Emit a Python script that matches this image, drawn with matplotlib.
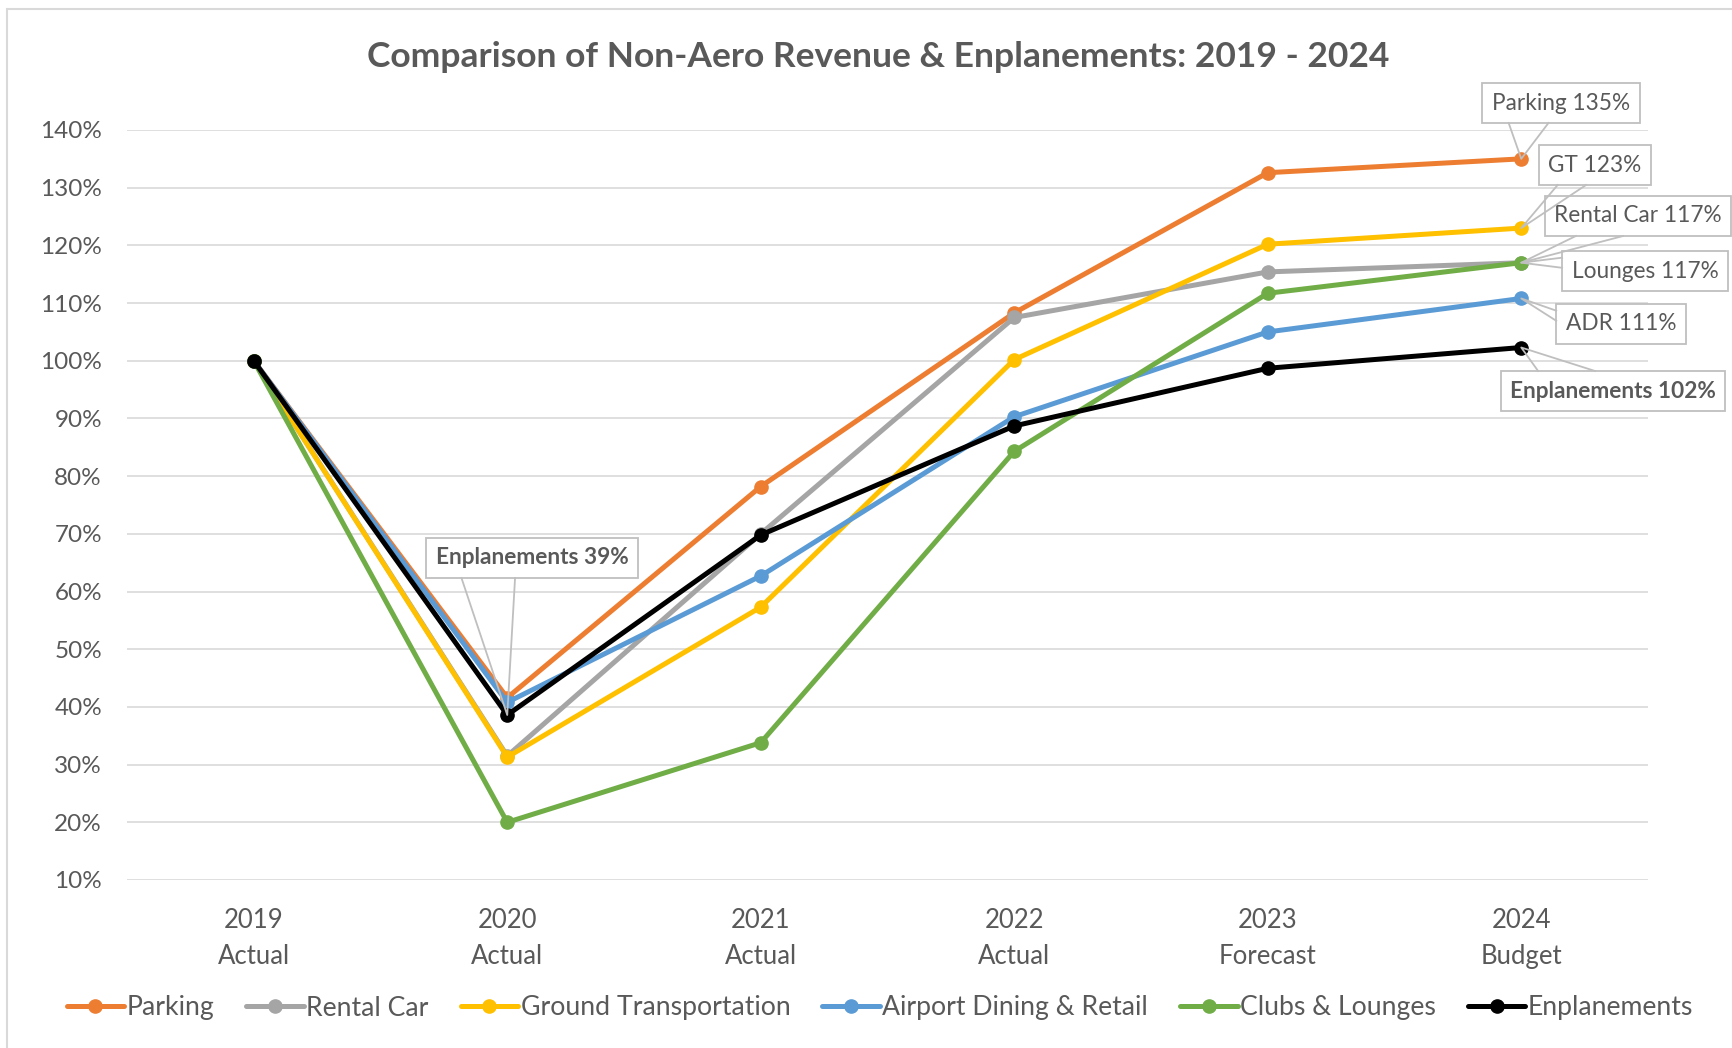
import numpy as np
import matplotlib
matplotlib.use("Agg")
import matplotlib.pyplot as plt
from matplotlib.lines import Line2D
from matplotlib.patches import Rectangle
from matplotlib.transforms import IdentityTransform

plt.rcParams['font.family'] = ['Lato', 'DejaVu Sans']

categories = ["2019\nActual", "2020\nActual", "2021\nActual",
              "2022\nActual", "2023\nForecast", "2024\nBudget"]

parking = [100, 41.6, 78.2, 108.3, 132.6, 135]
rental_car = [100, 31.5, 70.0, 107.5, 115.4, 117]
ground_transport = [100, 31.3, 57.3, 100.2, 120.2, 123]
dining_retail = [100, 40.8, 62.7, 90.3, 105.0, 110.8]
clubs_lounges = [100, 20.0, 33.8, 84.3, 111.7, 117]
enplanements = [100, 38.6, 69.8, 88.7, 98.7, 102.3]

series_names = ["Parking", "Rental Car", "Ground Transportation",
                "Airport Dining & Retail", "Clubs & Lounges", "Enplanements"]
series_values = [parking, rental_car, ground_transport,
                 dining_retail, clubs_lounges, enplanements]
series_colors = ["#ED7D31", "#A5A5A5", "#FFC000", "#5B9BD5", "#70AD47", "#000000"]

# callouts: (series index, category index, label text, bold)
callouts = [
    (0, 5, "Parking 135%", False),
    (2, 5, "GT 123%", False),
    (1, 5, "Rental Car 117%", False),
    (4, 5, "Lounges 117%", False),
    (3, 5, "ADR 111%", False),
    (5, 5, "Enplanements 102%", True),
    (5, 1, "Enplanements 39%", True),
]
# box centres in figure pixels (from top-left) and the side the pointer leaves from
callout_pos = [(1561, 103, "bottom"), (1595, 165, "bottom"), (1638, 216, "bottom"),
               (1645, 271, "left"), (1621, 324, "left"), (1613, 391, "top"),
               (532, 558, "bottom")]

TXT = "#595959"
W, H = 1732, 1048

fig = plt.figure(figsize=(W / 100, H / 100), dpi=100)
ax = fig.add_axes([127 / W, 1 - 880 / H, (1648 - 127) / W, (880 - 130) / H])

x = np.arange(len(categories))
handles = []
for name, vals, col in zip(series_names, series_values, series_colors):
    ln, = ax.plot(x, vals, color=col, lw=3.6, marker="o", markersize=9.5,
                  solid_joinstyle="round", solid_capstyle="round", label=name,
                  clip_on=False)
    handles.append(ln)

ax.set_xlim(-0.5, len(categories) - 0.5)
ax.set_ylim(10, 140)
ax.set_yticks(np.arange(10, 141, 10))
ax.set_yticklabels([f"{v}%" for v in range(10, 141, 10)])
ax.set_xticks(x)
ax.set_xticklabels(categories, linespacing=1.58)
ax.grid(axis="y", color="#D9D9D9", lw=1.2)
ax.set_axisbelow(True)
for s in ax.spines.values():
    s.set_visible(False)
ax.tick_params(axis="both", length=0, labelcolor=TXT)
ax.tick_params(axis="y", pad=18, labelsize=17.5)
ax.tick_params(axis="x", pad=20, labelsize=18.5)

fig.text(878 / W, 1 - 57 / H, "Comparison of Non-Aero Revenue & Enplanements: 2019 - 2024",
         ha="center", va="center", fontsize=25.5, fontweight="bold", color=TXT)

fig.legend(handles=handles, loc="center", bbox_to_anchor=(880 / W, 1 - 1008 / H),
           ncol=6, frameon=False, fontsize=19.2, labelcolor=TXT,
           handlelength=2.15, handletextpad=0.1, columnspacing=1.2)

# outer chart border (only top and left edges are inside the picture)
fig.add_artist(Rectangle((7, -20), W + 40, H - 9 + 20, transform=IdentityTransform(),
                         fill=False, edgecolor="#D9D9D9", lw=1.5))

anns = []
for (si, ci, label, bold), (px, py, side) in zip(callouts, callout_pos):
    a = ax.annotate(label, xy=(ci, series_values[si][ci]), xytext=(px, H - py),
                    textcoords="figure pixels", ha="center", va="center",
                    fontsize=16.3, color=TXT, fontweight="bold" if bold else "normal",
                    bbox=dict(boxstyle="square,pad=0.42", fc="white", ec="#BFBFBF", lw=1.3),
                    zorder=5)
    anns.append(a)

fig.canvas.draw()
renderer = fig.canvas.get_renderer()
for a, (si, ci, label, bold), (px, py, side) in zip(anns, callouts, callout_pos):
    bb = a.get_bbox_patch().get_window_extent(renderer)
    tx, ty = ax.transData.transform((ci, series_values[si][ci]))
    f1, f2 = 0.167, 0.42
    if side == "bottom":
        p1 = (bb.x0 + f1 * bb.width, bb.y0)
        p2 = (bb.x0 + f2 * bb.width, bb.y0)
    elif side == "top":
        p1 = (bb.x0 + f1 * bb.width, bb.y1)
        p2 = (bb.x0 + f2 * bb.width, bb.y1)
    else:
        p1 = (bb.x0, bb.y1 - f1 * bb.height)
        p2 = (bb.x0, bb.y1 - f2 * bb.height)
    fig.add_artist(Line2D([p1[0], tx, p2[0]], [p1[1], ty, p2[1]],
                          transform=IdentityTransform(), color="#BFBFBF", lw=1.3,
                          zorder=4))

fig.savefig("out.png", dpi=100)
